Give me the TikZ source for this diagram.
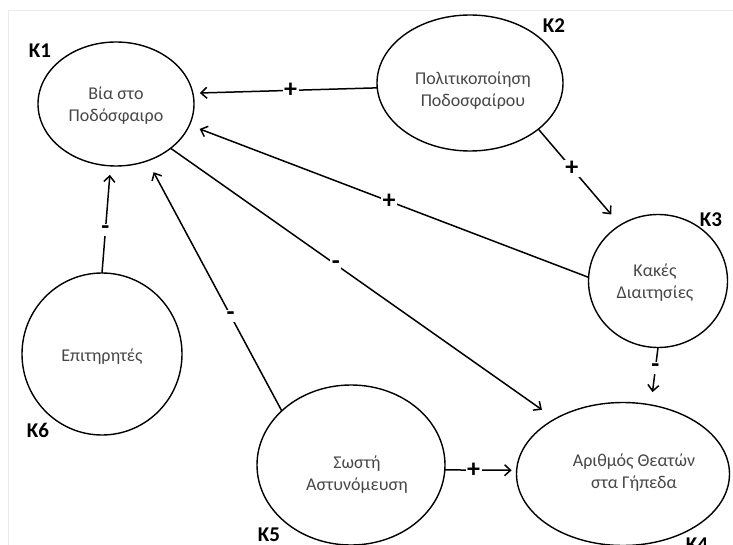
\documentclass[tikz,border=0pt]{standalone}
\usepackage{fontspec}
\setmainfont{Carlito}
\usetikzlibrary{shapes.geometric,arrows.meta}

\begin{document}
\begin{tikzpicture}[x=1pt,y=-1pt,
  concept/.style={draw, ellipse, line width=1.4pt, inner sep=0pt, outer sep=0pt},
  caption/.style={align=center, font=\fontsize{18}{22}\selectfont, text=black!72},
  tag/.style={anchor=base, inner sep=0pt, font=\bfseries\fontsize{21}{21}\selectfont},
  sign/.style={font=\bfseries\fontsize{26}{26}\selectfont, fill=white, inner sep=1.5pt},
  link/.style={line width=1.5pt, -{Straight Barb[length=6pt,width=11pt]}},
]
\useasboundingbox (0,0) rectangle (733,545);
\draw[black!8, line width=0.6pt] (8,545) -- (8,10) -- (733,10);

% concepts
\node[concept, minimum width=156pt, minimum height=124pt] (k1) at (116,104) {};
\node[concept, minimum width=186pt, minimum height=136pt] (k2) at (470,83) {};
\node[concept, minimum width=139pt, minimum height=133pt] (k3) at (658,281) {};
\node[concept, minimum width=213pt, minimum height=143pt] (k4) at (623,474) {};
\node[concept, minimum width=188pt, minimum height=160pt] (k5) at (351,465) {};
\node[concept, minimum width=160pt, minimum height=162pt] (k6) at (102,354) {};

% captions
\node[caption] (t1) at (116,106) {Βία στο\\Ποδόσφαιρο};
\node[caption] (t2) at (473,91) {Πολιτικοποίηση\\Ποδοσφαίρου};
\node[caption] (t3) at (655,283) {Κακές\\Διαιτησίες};
\node[caption] (t4) at (634,473) {Αριθμός Θεατών\\στα Γήπεδα};
\node[caption] (t5) at (357,475) {Σωστή\\Αστυνόμευση};
\node[caption] (t6) at (102,357) {Επιτηρητές};

% concept tags
\node[tag] (l1) at (40,58) {K1};
\node[tag] (l2) at (554,33) {K2};
\node[tag] (l3) at (711,227) {K3};
\node[tag] (l4) at (697,551) {K4};
\node[tag] (l5) at (269,541) {K5};
\node[tag] (l6) at (38,437) {K6};

% causal links
\draw[link, shorten >=7pt]  (k2.183) -- node[sign, pos=0.47] {+} (k1.8);
\draw[link, shorten >=14pt] (k2.-34) -- node[sign, pos=0.41] {+} (k3.124);
\draw[link, shorten >=11pt] (k3.177) -- node[sign, pos=0.5]  {+} (k1.-16);
\draw[link, shorten >=16pt] (k1.-39) -- node[sign, pos=0.43] {-} (k4.141);
\draw[link, shorten >=13pt] (k5.142) -- node[sign, pos=0.38] {-} (k1.-61);
\draw[link, shorten >=9pt]  (k6.90)  -- node[sign, pos=0.40] {-} (k1.-95);
\draw[link, shorten >=13pt] (k3.-90) -- node[sign, pos=0.36] {-} (k4.68);
\draw[link, shorten >=5pt]  (k5.-3)  -- node[sign, pos=0.40] {+} (k4.178);
\end{tikzpicture}
\end{document}
